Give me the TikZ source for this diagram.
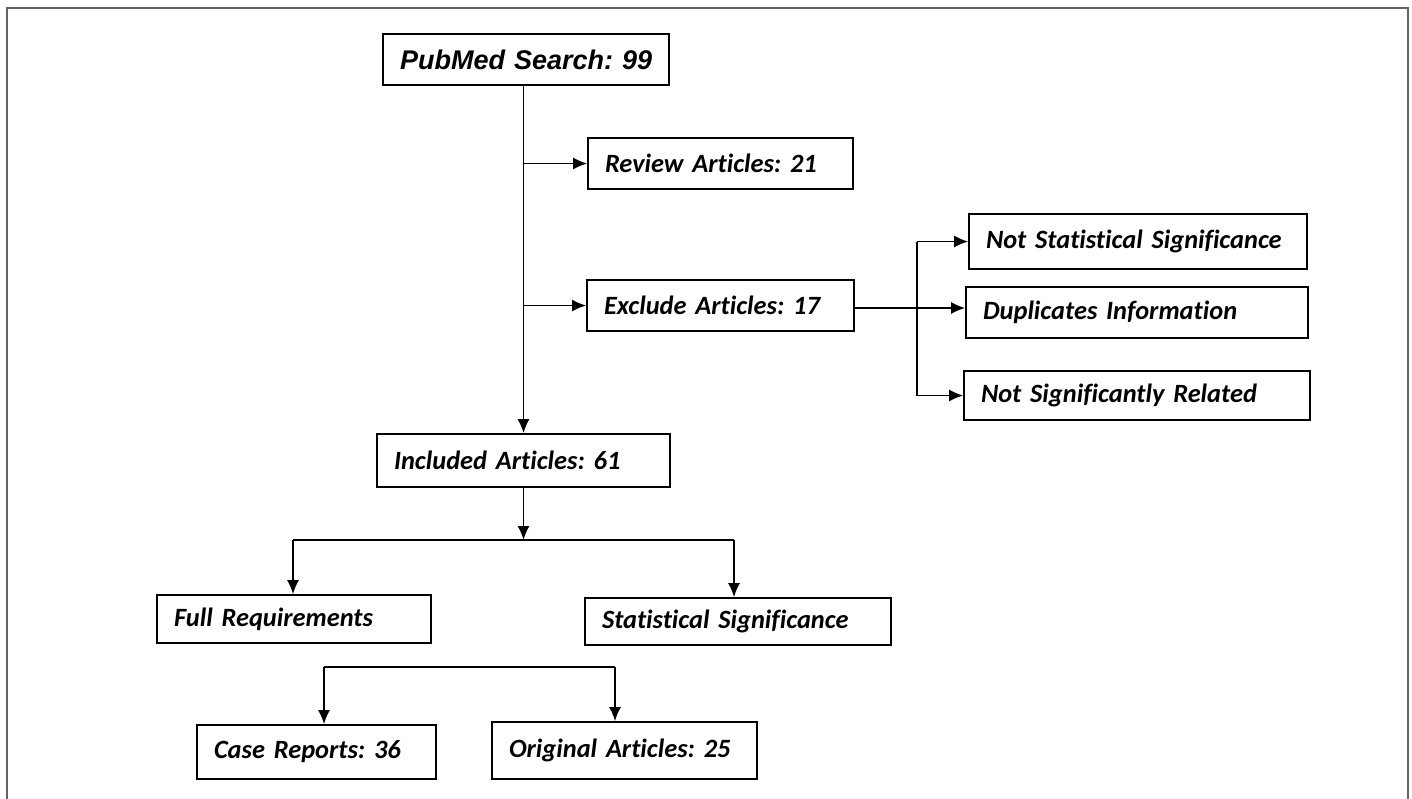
\documentclass[tikz,border=0pt]{standalone}
\usepackage{fontspec}
\usetikzlibrary{arrows.meta}
\newfontfamily\carl{Carlito}[Ligatures={NoCommon}]
\newfontfamily\arl{Liberation Sans}
\frenchspacing
\begin{document}
\begin{tikzpicture}[x=0.5pt,y=-0.5pt,
  bx/.style={draw, line width=0.85pt, inner xsep=8.5pt, inner ysep=0pt, align=left,
     font=\carl\bfseries\itshape\fontsize{13.2}{15}\selectfont},
  ln/.style={line width=0.85pt},
  arr/.style={line width=0.85pt, -{Latex[length=7pt,width=6pt]}}]
\useasboundingbox (0,0) rectangle (1412,798);
\definecolor{framegray}{RGB}{100,100,100}
\draw[framegray, line width=1pt] (7,799) -- (7,8) -- (1408,8) -- (1408,799);

\node[bx, inner xsep=6pt, text width=131pt, minimum height=25.5pt, font=\arl\bfseries\itshape\fontsize{13.5}{16}\selectfont] (pub) at (526,59.5) {\hspace*{2.5pt}PubMed Search: 99};
\node[bx, text width=115.5pt, minimum height=25.5pt] (rev) at (720.5,163.5) {Review Articles: 21};
\node[bx, text width=116.5pt, minimum height=25.5pt] (exc) at (720.5,305.5) {Exclude Articles: 17};
\node[bx, text width=152pt, minimum height=27.5pt] (nss) at (1138,241.5) {Not Statistical Significance};
\node[bx, text width=154pt, minimum height=25.5pt] (dup) at (1137,312.5) {Duplicates Information};
\node[bx, text width=156pt, minimum height=24.5pt] (nsr) at (1137,395.5) {Not Significantly Related};
\node[bx, text width=129.5pt, minimum height=26.5pt] (inc) at (523.5,460.5) {Included Articles: 61};
\node[bx, text width=120pt, minimum height=24pt] (full) at (294,619) {Full Requirements};
\node[bx, text width=136pt, minimum height=23.5pt] (stat) at (738,621.5) {Statistical Significance};
\node[bx, text width=102.5pt, minimum height=27pt] (case) at (316.5,752) {Case Reports: 36};
\node[bx, text width=115.5pt, minimum height=28.5pt] (orig) at (624.5,750.5) {Original Articles: 25};

% trunk
\draw[arr] (pub.south -| inc.north) -- (inc.north);
\draw[arr] (inc.north |- rev.west) -- (rev.west);
\draw[arr] (inc.north |- exc.west) -- (exc.west);

% exclusion reasons
\coordinate (jx) at (917,308);
\draw[arr] (exc.east |- jx) -- (jx -| dup.west);
\draw[ln] (jx |- nss.west) -- (jx |- nsr.west);
\draw[arr] (jx |- nss.west) -- (nss.west);
\draw[arr] (jx |- nsr.west) -- (nsr.west);

% included split
\coordinate (b1) at (523.5,540);
\draw[arr] (inc.south) -- (b1);
\coordinate (bl) at (293,540);
\coordinate (br) at (734,540);
\draw[ln] (bl) -- (br);
\draw[arr] (bl) -- (bl |- full.north);
\draw[arr] (br) -- (br |- stat.north);

% bottom split
\coordinate (cl) at (324,667);
\coordinate (cr) at (615,667);
\draw[ln] (cl) -- (cr);
\draw[arr] (cl) -- (cl |- case.north);
\draw[arr] (cr) -- (cr |- orig.north);
\end{tikzpicture}
\end{document}
